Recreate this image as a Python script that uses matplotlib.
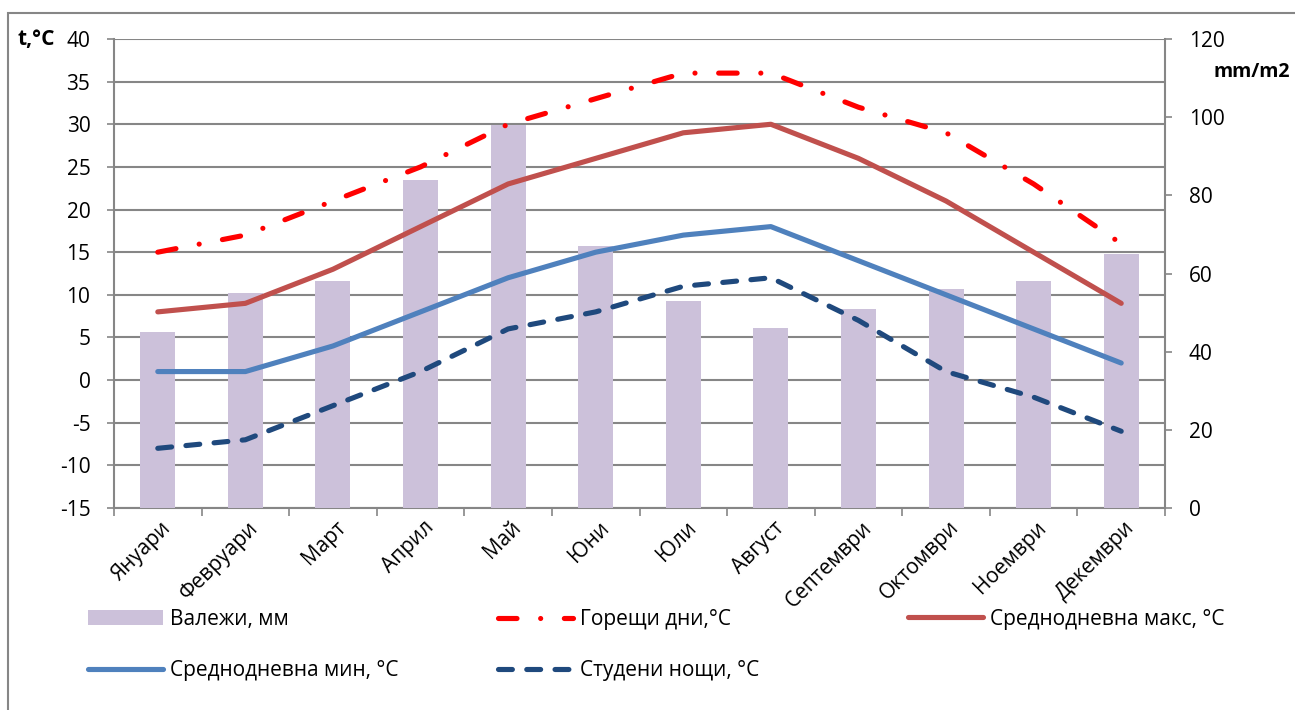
import matplotlib
matplotlib.use("Agg")
import matplotlib.pyplot as plt
from matplotlib.patches import Rectangle, Patch
import matplotlib.transforms as mtransforms
import numpy as np

plt.rcParams['font.family'] = ['Open Sans', 'DejaVu Sans']
plt.rcParams['axes.unicode_minus'] = False

months = ["Януари", "Февруари", "Март", "Април", "Май", "Юни", "Юли",
          "Август", "Септември", "Октомври", "Ноември", "Декември"]
precip = [45, 55, 58, 84, 98, 67, 53, 46, 51, 56, 58, 65]
hot_days = [15, 17, 21, 25, 30, 33, 36, 36, 32, 29, 23, 16]
avg_max = [8, 9, 13, 18, 23, 26, 29, 30, 26, 21, 15, 9]
avg_min = [1, 1, 4, 8, 12, 15, 17, 18, 14, 10, 6, 2]
cold_nights = [-8, -7, -3, 1, 6, 8, 11, 12, 7, 1, -2, -6]

left_ticks = [-15, -10, -5, 0, 5, 10, 15, 20, 25, 30, 35, 40]
right_ticks = [0, 20, 40, 60, 80, 100, 120]

GRID = '#868686'
W, H = 1295, 710
fig = plt.figure(figsize=(W / 100, H / 100), dpi=100)

rect = [114 / W, 1 - 508 / H, (1165 - 114) / W, (508 - 39) / H]
x = np.arange(len(months))

# base axes: left scale + gridlines
ax = fig.add_axes(rect)
ax.set_xlim(-0.5, len(months) - 0.5)
ax.set_ylim(-15, 40)
ax.set_yticks(left_ticks)
ax.grid(axis='y', color=GRID, linewidth=1.5)
ax.set_axisbelow(True)
for s in ['top', 'right']:
    ax.spines[s].set_visible(False)
for s in ['left', 'bottom']:
    ax.spines[s].set_color(GRID)
    ax.spines[s].set_linewidth(1.5)
ax.tick_params(axis='y', length=5, width=1.2, color=GRID, pad=12, labelsize=15)
ax.set_xticks(np.arange(len(months) + 1) - 0.5, minor=True)
ax.set_xticks(x)
ax.set_xticklabels(months, rotation=45, ha='right', va='center',
                   rotation_mode='anchor', fontsize=15)
ax.tick_params(axis='x', which='major', length=0, pad=12)
ax.tick_params(axis='x', which='minor', length=6, width=1.2, color=GRID)
offset = mtransforms.ScaledTranslation(10 / 100, 0, fig.dpi_scale_trans)
for lab in ax.get_xticklabels():
    lab.set_transform(lab.get_transform() + offset)

# bars on the secondary axis
axb = ax.twinx()
axb.set_ylim(0, 120)
axb.set_yticks(right_ticks)
axb.bar(x, precip, width=0.4, color='#CCC1DA', zorder=2)
axb.set_xlim(-0.5, len(months) - 0.5)
for s in ['top', 'left', 'bottom']:
    axb.spines[s].set_visible(False)
axb.spines['right'].set_color(GRID)
axb.spines['right'].set_linewidth(1.5)
axb.tick_params(axis='y', length=5, width=1.2, color=GRID, pad=12, labelsize=15)

# lines on temperature axis (top layer)
axl = ax.twinx()
axl.set_ylim(-15, 40)
axl.set_xlim(-0.5, len(months) - 0.5)
axl.axis('off')
lw = 3.7
l_hot, = axl.plot(x, hot_days, color='#FF0000', lw=lw, dash_capstyle='round',
                  solid_capstyle='round')
l_hot.set_dashes([3.6, 4.6, 0.01, 4.6])
l_max, = axl.plot(x, avg_max, color='#C0504D', lw=lw, solid_capstyle='round')
l_min, = axl.plot(x, avg_min, color='#4F81BD', lw=lw, solid_capstyle='round')
l_cold, = axl.plot(x, cold_nights, color='#1F497D', lw=lw, dash_capstyle='round')
l_cold.set_dashes([2.7, 2.8])

# axis titles
fig.text(18 / W, 1 - 39 / H, "t,°C", fontsize=15, fontweight='bold', va='center', ha='left')
fig.text(1290 / W, 1 - 72 / H, "mm/m2", fontsize=14, fontweight='bold', va='center', ha='right')

# chart border
fig.add_artist(Rectangle((8 / W, -0.05), 1.2, 1 - 13 / H + 0.05, transform=fig.transFigure,
                         fill=False, edgecolor=GRID, linewidth=1.5))

# legends (three columns)
leg_kw = dict(frameon=False, loc='center left', fontsize=15, handlelength=3.6,
              handletextpad=0.35, labelspacing=1.45, borderpad=0, borderaxespad=0)
h_bar = Patch(facecolor='#CCC1DA', edgecolor='none')
fig.legend([h_bar, l_min], ["Валежи, мм", "Среднодневна мин, °C"],
           bbox_to_anchor=(88 / W, 1 - 645 / H), **leg_kw)
fig.legend([l_hot, l_cold], ["Горещи дни,°C", "Студени нощи, °C"],
           bbox_to_anchor=(498 / W, 1 - 645 / H), **leg_kw)
fig.legend([l_max], ["Среднодневна макс, °C"],
           bbox_to_anchor=(908 / W, 1 - 619 / H), **leg_kw)

fig.savefig("out.png", dpi=100)
